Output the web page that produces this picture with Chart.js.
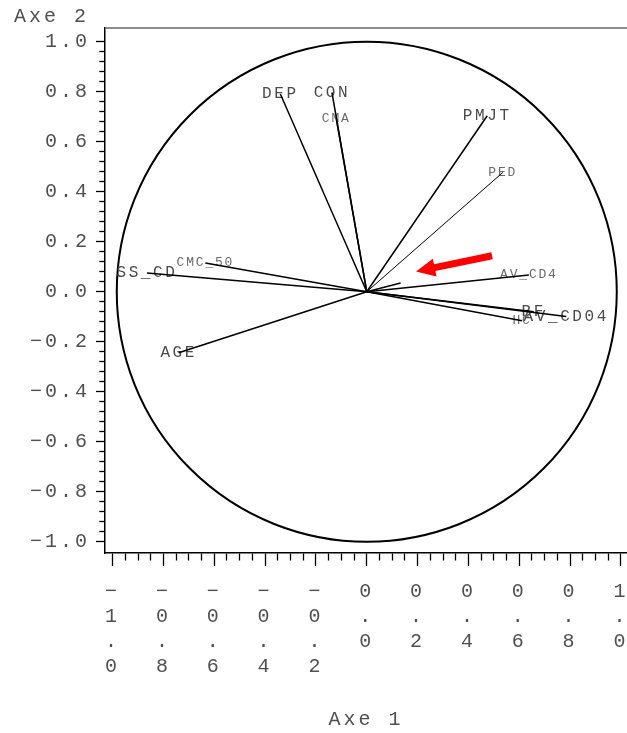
<!DOCTYPE html>
<html>
<head>
<meta charset="utf-8">
<script src="https://cdn.jsdelivr.net/npm/chart.js@4/dist/chart.umd.min.js"></script>
<style>
  body { margin: 0; background: #fff; }
  canvas { display: block; }
</style>
</head>
<body>
<canvas id="myChart" width="627" height="733"></canvas>
<script>
// correlation circle, axes 1 and 2
const varNames = ['DEP', 'CON', 'CMA', 'PMJT', 'PED', 'AV_CD4', 'BF', 'AV_CD04', 'HC', '', 'SS_CD', 'CMC_50', 'AGE'];
const axis1 = [-0.34, -0.137, -0.12, 0.474, 0.535, 0.638, 0.657, 0.785, 0.611, 0.133, -0.865, -0.635, -0.74];
const axis2 = [0.791, 0.797, 0.692, 0.704, 0.477, 0.067, -0.08, -0.099, -0.116, 0.035, 0.075, 0.115, -0.244];

const xMajor = [-1.0, -0.8, -0.6, -0.4, -0.2, 0.0, 0.2, 0.4, 0.6, 0.8, 1.0];
const yMajor = [-1.0, -0.8, -0.6, -0.4, -0.2, 0.0, 0.2, 0.4, 0.6, 0.8, 1.0];
const xMinorStep = 0.05;
const yMinorStep = 0.04;

// red arrow (tail -> tip), in axis units
const arrowFrom = [0.493, 0.144];
const arrowTo = [0.194, 0.081];

const smallLabels = ['CMA', 'PED', 'AV_CD4', 'HC', 'CMC_50'];
const MONO = "'Liberation Mono', 'Courier New', monospace";

function allTicks(step) {
  var out = [];
  var n = Math.round(2 / step);
  for (var i = 0; i <= n; i++) out.push(Math.round((-1 + i * step) * 100) / 100);
  return out;
}
function isMajor(list, v) {
  return list.some(function (m) { return Math.abs(m - v) < 1e-6; });
}
function fmt(v) {
  return (Math.round(v * 10) / 10).toFixed(1).replace('-', '\u2212');
}

var datasets = varNames.map(function (name, i) {
  return {
    label: name,
    data: [{x: 0, y: 0}, {x: axis1[i], y: axis2[i]}],
    showLine: true,
    borderColor: '#000',
    borderWidth: name === 'PED' ? 1 : 1.5,
    pointRadius: 0
  };
});

var spacing = {
  id: 'spacing',
  beforeLayout: function (chart) { chart.ctx.letterSpacing = '3px'; },
  beforeDraw: function (chart) { chart.ctx.letterSpacing = '3px'; }
};

var overlay = {
  id: 'overlay',
  beforeDatasetsDraw: function (chart) {
    var ctx = chart.ctx, a = chart.chartArea;
    var xs = chart.scales.x, ys = chart.scales.y;
    ctx.save();
    // top frame line
    ctx.strokeStyle = '#666';
    ctx.lineWidth = 1.5;
    ctx.beginPath();
    ctx.moveTo(a.left, a.top);
    ctx.lineTo(a.right, a.top);
    ctx.stroke();
    // unit circle (round in pixels, sized on axis 2)
    var cx = xs.getPixelForValue(0), cy = ys.getPixelForValue(0);
    var r = cy - ys.getPixelForValue(1);
    ctx.strokeStyle = '#000';
    ctx.lineWidth = 2;
    ctx.beginPath();
    ctx.arc(cx, cy, r, 0, Math.PI * 2);
    ctx.stroke();
    // variable names
    ctx.textAlign = 'center';
    ctx.textBaseline = 'middle';
    varNames.forEach(function (name, i) {
      if (!name) return;
      var small = smallLabels.indexOf(name) >= 0;
      ctx.font = (small ? 13 : 16) + 'px ' + MONO;
      ctx.letterSpacing = small ? '1.8px' : '2.6px';
      ctx.fillStyle = small ? '#6a6a6a' : '#4a4a4a';
      ctx.fillText(name, xs.getPixelForValue(axis1[i]), ys.getPixelForValue(axis2[i]));
    });
    ctx.restore();
  },
  afterDatasetsDraw: function (chart) {
    var ctx = chart.ctx;
    var xs = chart.scales.x, ys = chart.scales.y;
    var x0 = xs.getPixelForValue(arrowFrom[0]), y0 = ys.getPixelForValue(arrowFrom[1]);
    var x1 = xs.getPixelForValue(arrowTo[0]), y1 = ys.getPixelForValue(arrowTo[1]);
    var len = Math.hypot(x1 - x0, y1 - y0);
    var ux = (x1 - x0) / len, uy = (y1 - y0) / len;
    var nx = -uy, ny = ux;
    var body = 3.5, head = 9, headLen = 19;
    var bx = x1 - ux * headLen, by = y1 - uy * headLen;
    ctx.save();
    ctx.fillStyle = '#ff0000';
    ctx.beginPath();
    ctx.moveTo(x0 + nx * body, y0 + ny * body);
    ctx.lineTo(bx + nx * body, by + ny * body);
    ctx.lineTo(bx + nx * head, by + ny * head);
    ctx.lineTo(x1, y1);
    ctx.lineTo(bx - nx * head, by - ny * head);
    ctx.lineTo(bx - nx * body, by - ny * body);
    ctx.lineTo(x0 - nx * body, y0 - ny * body);
    ctx.closePath();
    ctx.fill();
    ctx.restore();
  }
};

var tickFont = {family: MONO, size: 20, lineHeight: 1.25};

var myChart = new Chart(document.getElementById('myChart'), {
  type: 'scatter',
  data: {datasets: datasets},
  plugins: [spacing, overlay],
  options: {
    responsive: false,
    animation: false,
    devicePixelRatio: 1,
    layout: {autoPadding: false, padding: {left: 14, right: 0, top: 0, bottom: 0}},
    plugins: {
      legend: {display: false},
      tooltip: {enabled: false},
      title: {
        display: true,
        text: 'Axe 2',
        align: 'start',
        color: '#505050',
        font: {family: MONO, size: 20, weight: 'normal', lineHeight: 1.1},
        padding: {top: 6, bottom: 0}
      }
    },
    scales: {
      x: {
        type: 'linear',
        position: 'bottom',
        min: -1.03,
        max: 1.024,
        afterBuildTicks: function (s) { s.ticks = allTicks(xMinorStep).map(function (v) { return {value: v}; }); },
        afterFit: function (s) { s.height = 180; s.paddingLeft = 0; s.paddingRight = 0; },
        border: {display: true, color: '#000', width: 1.5},
        grid: {
          drawOnChartArea: false,
          tickLength: 13,
          tickColor: '#000',
          tickWidth: 1.3,
          tickBorderDash: function (c) { return isMajor(xMajor, c.tick.value) ? [] : [7, 100]; }
        },
        ticks: {
          autoSkip: false,
          maxRotation: 0,
          minRotation: 0,
          padding: 13,
          color: '#505050',
          font: tickFont,
          callback: function (v) {
            if (!isMajor(xMajor, v)) return '';
            return fmt(v).split('');
          }
        },
        title: {
          display: true,
          text: 'Axe 1',
          color: '#505050',
          font: {family: MONO, size: 20, lineHeight: 1.2},
          padding: {top: 0, bottom: 1}
        }
      },
      y: {
        type: 'linear',
        position: 'left',
        min: -1.045,
        max: 1.055,
        afterBuildTicks: function (s) { s.ticks = allTicks(yMinorStep).map(function (v) { return {value: v}; }); },
        afterFit: function (s) { s.width = 91; s.paddingTop = 0; s.paddingBottom = 0; },
        border: {display: true, color: '#000', width: 1.5},
        grid: {
          drawOnChartArea: false,
          tickLength: 9,
          tickColor: '#000',
          tickWidth: 1.3,
          tickBorderDash: function (c) { return isMajor(yMajor, c.tick.value) ? [] : [5, 100]; },
          tickBorderDashOffset: function (c) { return isMajor(yMajor, c.tick.value) ? 0 : -3.3; }
        },
        ticks: {
          autoSkip: false,
          padding: 6,
          color: '#505050',
          font: tickFont,
          callback: function (v) {
            if (!isMajor(yMajor, v)) return '';
            return fmt(v);
          }
        }
      }
    }
  }
});
</script>
</body>
</html>
